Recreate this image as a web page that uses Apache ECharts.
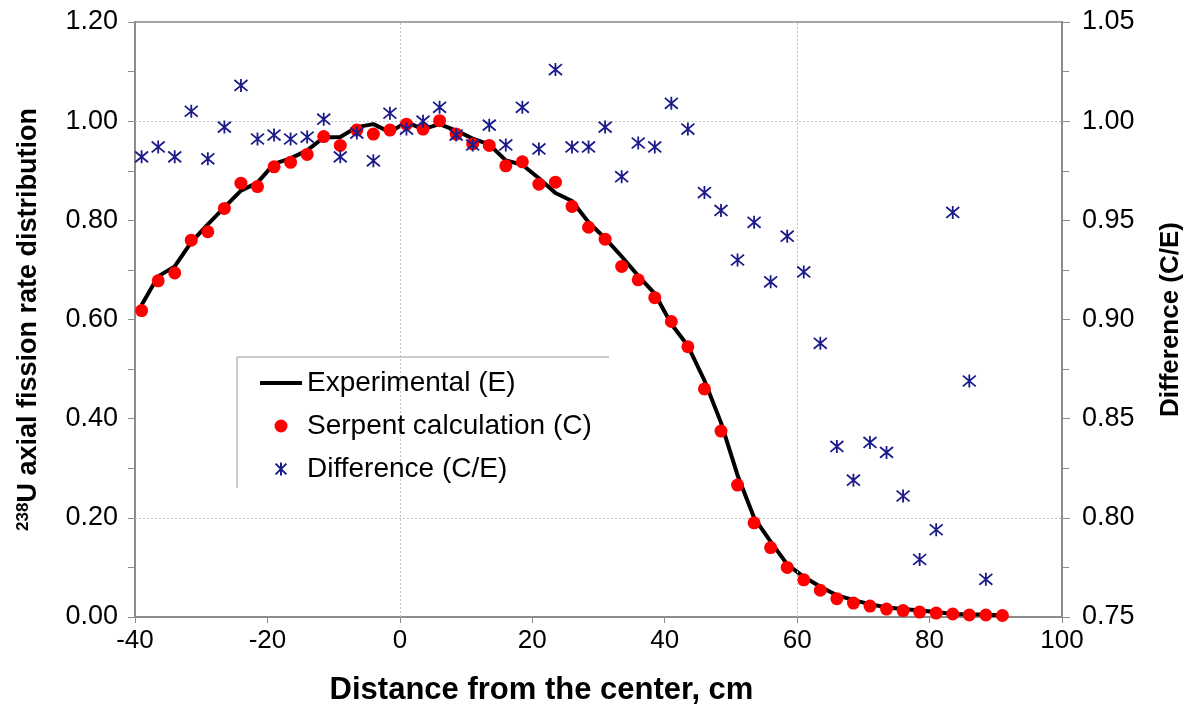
<!DOCTYPE html>
<html>
<head>
<meta charset="utf-8">
<script src="https://cdn.jsdelivr.net/npm/echarts@6/dist/echarts.min.js"></script>
<style>html,body{margin:0;padding:0;background:#fff;}#c{width:1192px;height:713px;}</style>
</head>
<body>
<div id="c"></div>
<script>
// Distance from the center (cm)
const positions = [-39,-36.5,-34,-31.5,-29,-26.5,-24,-21.5,-19,-16.5,-14,-11.5,-9,-6.5,-4,-1.5,1,3.5,6,8.5,11,13.5,16,18.5,21,23.5,26,28.5,31,33.5,36,38.5,41,43.5,46,48.5,51,53.5,56,58.5,61,63.5,66,68.5,71,73.5,76,78.5,81,83.5,86,88.5,91];
// Experimental (E)
const experimental = [0.629,0.687,0.707,0.756,0.792,0.826,0.860,0.876,0.914,0.925,0.941,0.967,0.968,0.988,0.994,0.978,0.998,0.984,0.994,0.981,0.965,0.953,0.921,0.912,0.885,0.855,0.839,0.796,0.764,0.727,0.688,0.652,0.591,0.547,0.477,0.392,0.286,0.200,0.152,0.106,0.081,0.061,0.044,0.034,0.026,0.019,0.016,0.013,0.010,0.006,0.005,0.005,0.003];
// Serpent calculation (C)
const serpent = [0.618,0.678,0.694,0.760,0.777,0.824,0.875,0.868,0.908,0.917,0.933,0.969,0.951,0.982,0.974,0.982,0.994,0.984,1.001,0.974,0.954,0.951,0.910,0.918,0.873,0.877,0.828,0.786,0.762,0.707,0.680,0.644,0.596,0.545,0.460,0.375,0.266,0.190,0.140,0.100,0.075,0.054,0.037,0.028,0.022,0.016,0.013,0.010,0.008,0.006,0.004,0.004,0.003];
// Difference (C/E)
const diffPositions = positions.slice(0, 52);
const difference = [0.982,0.987,0.982,1.005,0.981,0.997,1.018,0.991,0.993,0.991,0.992,1.001,0.982,0.994,0.980,1.004,0.996,1.000,1.007,0.993,0.988,0.998,0.988,1.007,0.986,1.026,0.987,0.987,0.997,0.972,0.989,0.987,1.009,0.996,0.964,0.955,0.930,0.949,0.919,0.942,0.924,0.888,0.836,0.819,0.838,0.833,0.811,0.779,0.794,0.954,0.869,0.769];
const xTicks = {min: -40, max: 100, interval: 20};
const yLeftTicks = {min: 0, max: 1.2, interval: 0.2};
const yRightTicks = {min: 0.75, max: 1.05, interval: 0.05};
const gridX = [0, 60];
const gridY = [1.0, 0.2];

const FONT = '"Liberation Sans", Arial, sans-serif';
const starPath = 'path://M0,0L10,10M10,0L0,10M5,-1L5,11';

const chart = echarts.init(document.getElementById('c'), null, {renderer: 'canvas'});
chart.setOption({
  animation: false,
  backgroundColor: '#fff',
  grid: {left: 135, right: 130, top: 22, bottom: 96, show: true, borderColor: '#a6a6a6', borderWidth: 2, backgroundColor: 'transparent'},
  xAxis: {
    type: 'value', min: xTicks.min, max: xTicks.max, interval: xTicks.interval,
    axisLine: {show: true, onZero: false, lineStyle: {color: '#8c8c8c', width: 2}},
    axisTick: {show: true, inside: false, length: 6, lineStyle: {color: '#8c8c8c'}},
    splitLine: {show: false},
    axisLabel: {fontFamily: FONT, fontSize: 26, color: '#000', margin: 11},
    name: 'Distance from the center, cm', nameLocation: 'middle', nameGap: 58,
    nameTextStyle: {fontFamily: FONT, fontSize: 31, fontWeight: 'bold', color: '#000', padding: [0, 114, 0, 0]}
  },
  yAxis: [{
    type: 'value', min: yLeftTicks.min, max: yLeftTicks.max, interval: yLeftTicks.interval,
    position: 'left',
    axisLine: {show: true, onZero: false, lineStyle: {color: '#8c8c8c', width: 2}},
    axisTick: {show: true, length: 7, lineStyle: {color: '#8c8c8c'}},
    minorTick: {show: true, splitNumber: 2, length: 7, lineStyle: {color: '#8c8c8c'}},
    splitLine: {show: false},
    axisLabel: {fontFamily: FONT, fontSize: 27, color: '#000', margin: 17, formatter: v => v.toFixed(2)},
    name: '{sup|238}U axial fission rate distribution', nameLocation: 'middle', nameGap: 93, nameRotate: 90,
    nameTextStyle: {fontFamily: FONT, fontSize: 27, fontWeight: 'bold', color: '#000',
      rich: {sup: {fontFamily: FONT, fontSize: 17, fontWeight: 'bold', color: '#000', verticalAlign: 'top', padding: [0,0,10,0]}}}
  }, {
    type: 'value', min: yRightTicks.min, max: yRightTicks.max, interval: yRightTicks.interval,
    position: 'right',
    axisLine: {show: true, onZero: false, lineStyle: {color: '#8c8c8c', width: 2}},
    axisTick: {show: true, length: 8, lineStyle: {color: '#8c8c8c'}},
    minorTick: {show: true, splitNumber: 2, length: 7, lineStyle: {color: '#8c8c8c'}},
    splitLine: {show: false},
    axisLabel: {fontFamily: FONT, fontSize: 27, color: '#000', margin: 20, formatter: v => v.toFixed(2)},
    name: 'Difference (C/E)', nameLocation: 'middle', nameGap: 96, nameRotate: 90,
    nameTextStyle: {fontFamily: FONT, fontSize: 26, fontWeight: 'bold', color: '#000'}
  }],
  legend: {
    orient: 'vertical', left: 255, top: 364, itemGap: 15, itemWidth: 42, itemHeight: 13, z: 8,
    textStyle: {fontFamily: FONT, fontSize: 28, color: '#000'},
    data: [
      {name: 'Experimental (E)', icon: 'path://M0,0L44,0L44,4L0,4Z', itemStyle: {color: '#000'}},
      {name: 'Serpent calculation (C)'},
      {name: 'Difference (C/E)'}
    ]
  },
  graphic: [
    {type: 'rect', shape: {x: 238, y: 358, width: 371, height: 130}, style: {fill: '#fff'}, z: 3},
    {type: 'line', shape: {x1: 237, y1: 357, x2: 609, y2: 357}, style: {stroke: '#999', lineWidth: 1}, z: 4},
    {type: 'line', shape: {x1: 237, y1: 357, x2: 237, y2: 488}, style: {stroke: '#999', lineWidth: 1}, z: 4}
  ],
  series: [{
    name: 'Experimental (E)', type: 'line', yAxisIndex: 0,
    data: positions.map((x, i) => [x, experimental[i]]),
    symbol: 'none', lineStyle: {color: '#000', width: 4}, z: 2,
    markLine: {
      silent: true, symbol: 'none', label: {show: false},
      lineStyle: {color: '#c0c0c0', type: [2, 2], width: 1},
      data: gridX.map(v => ({xAxis: v})).concat(gridY.map(v => ({yAxis: v})))
    }
  }, {
    name: 'Serpent calculation (C)', type: 'scatter', yAxisIndex: 0,
    data: positions.map((x, i) => [x, serpent[i]]),
    symbol: 'circle', symbolSize: 13, itemStyle: {color: '#ff0000', opacity: 1}, z: 5
  }, {
    name: 'Difference (C/E)', type: 'scatter', yAxisIndex: 1,
    data: diffPositions.map((x, i) => [x, difference[i]]),
    symbol: starPath, symbolSize: 13,
    itemStyle: {color: 'rgba(0,0,0,0)', borderColor: '#1a1a8a', borderWidth: 1.8, opacity: 1}, z: 6
  }]
});
</script>
</body>
</html>
